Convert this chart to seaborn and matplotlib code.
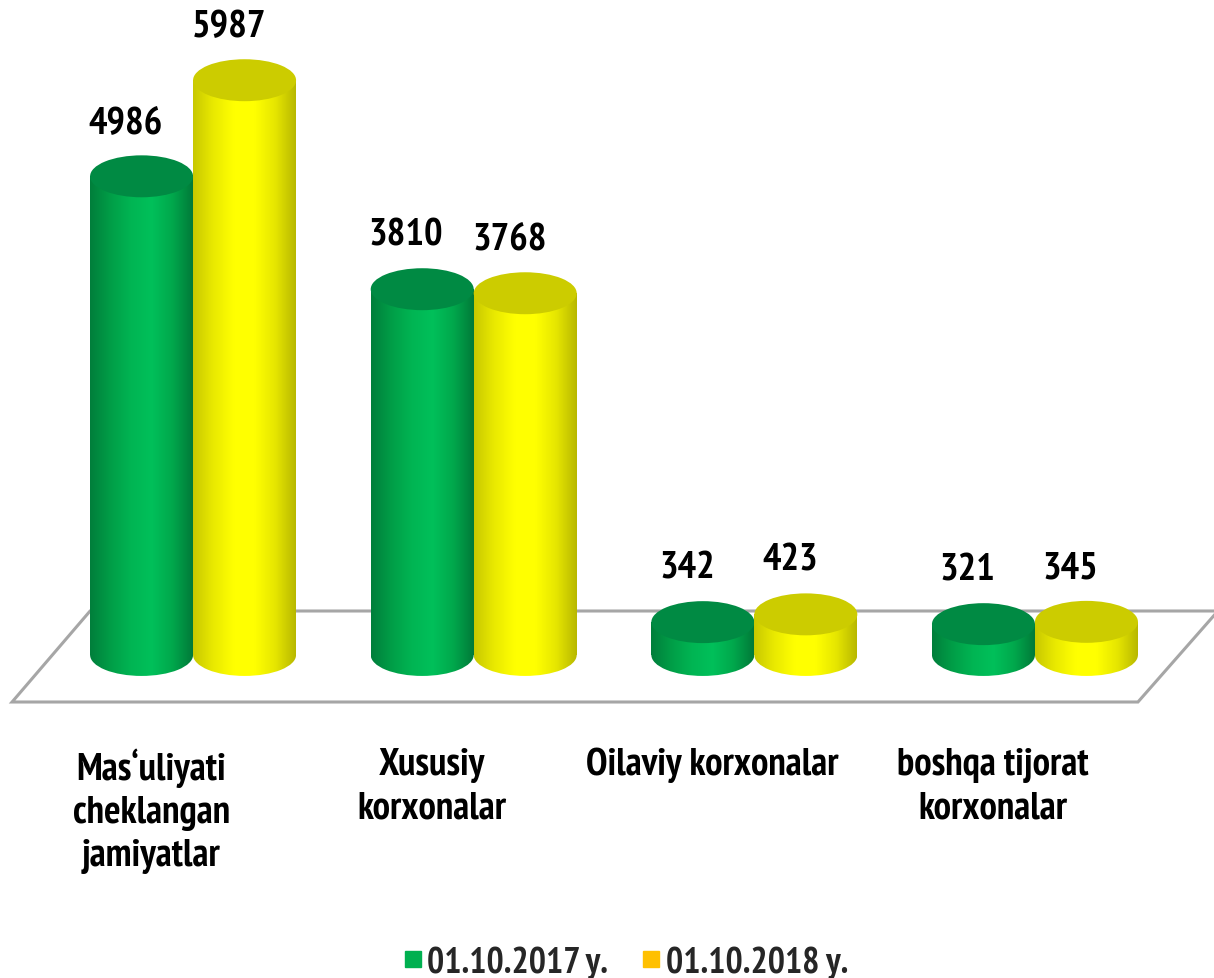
import numpy as np
import pandas as pd
import matplotlib
matplotlib.use("Agg")
import matplotlib.pyplot as plt
import seaborn as sns
from matplotlib.patches import Ellipse, Rectangle, Polygon
from matplotlib.colors import LinearSegmentedColormap
from matplotlib.lines import Line2D
from matplotlib import font_manager

# ---- data ----
categories = ["Mas\u2018uliyati\ncheklangan\njamiyatlar", "Xususiy\nkorxonalar",
              "Oilaviy korxonalar", "boshqa tijorat\nkorxonalar"]
series_names = ["01.10.2017 y.", "01.10.2018 y."]
values_2017 = [4986, 3810, 342, 321]
values_2018 = [5987, 3768, 423, 345]

sns.set_theme(style="white")

# pick a narrow bold face (static bold file preferred)
preferred = ["Liberation Sans Narrow", "PT Sans Narrow", "Roboto Condensed", "Arimo",
             "Pragati Narrow", "Encode Sans Condensed"]
entries = font_manager.fontManager.ttflist
chosen = None
for name in preferred:
    ok = [f for f in entries if f.name == name and f.weight in (700, "bold") and "wght" not in f.fname]
    if ok:
        chosen = name
        break
if chosen is None:
    chosen = "DejaVu Sans"
    plt.rcParams["font.stretch"] = "condensed"
plt.rcParams["font.family"] = [chosen, "DejaVu Sans"]
plt.rcParams["font.weight"] = "bold"

df = pd.DataFrame({
    "cat": categories * 2,
    "period": [series_names[0]] * 4 + [series_names[1]] * 4,
    "value": values_2017 + values_2018,
})

fig = plt.figure(figsize=(12.14, 9.79), dpi=100)
ax = fig.add_axes([0, 0, 1, 1])
sns.barplot(data=df, x="cat", y="value", hue="period", order=categories,
            hue_order=series_names, palette=["#00B050", "#FFFF00"],
            width=0.734, ax=ax, legend=False, errorbar=None)

ax.set_xlim(-0.688, 3.638)
ax.set_ylim(-3365, 6833)
ax.axis("off")

# floor
floor = Polygon([(-0.645, -490), (-0.367, 458), (3.652, 458), (3.367, -490)],
                closed=True, facecolor="white", edgecolor="#A6A6A6", lw=2.2, zorder=0.5)
ax.add_patch(floor)

ell_h = 437
body_cmaps = [
    LinearSegmentedColormap.from_list("g", ["#007E3B", "#009E47", "#00B553", "#00C05A", "#00A84C", "#007A39"]),
    LinearSegmentedColormap.from_list("y", ["#C8C800", "#EAEA00", "#FFFF00", "#FFFF00", "#E6E600", "#B8B800"]),
]
top_colors = ["#008A43", "#CCCC00"]
grad = np.linspace(0, 1, 256).reshape(1, -1)

bars = [p for p in ax.patches if isinstance(p, Rectangle) and p is not floor]
n = len(categories)
for idx, p in enumerate(bars):
    s = idx // n
    x0 = p.get_x(); w = p.get_width(); h = p.get_height()
    xc = x0 + w / 2
    p.set_visible(False)
    z = 3 + s
    be = Ellipse((xc, 0), w, ell_h, facecolor="none", edgecolor="none", zorder=z)
    body = Rectangle((x0, 0), w, h, facecolor="none", edgecolor="none", zorder=z)
    ax.add_patch(be); ax.add_patch(body)
    for clip in (be, body):
        im = ax.imshow(grad, extent=[x0, x0 + w, -ell_h, h], aspect="auto",
                       cmap=body_cmaps[s], zorder=z, interpolation="bilinear")
        im.set_clip_path(clip)
    te = Ellipse((xc, h), w, ell_h, facecolor=top_colors[s], edgecolor="none", zorder=z + 0.1)
    ax.add_patch(te)
    ax.annotate(f"{int(h)}", (xc, h), xytext=(-16, 54), textcoords="offset pixels",
                ha="center", va="center", fontsize=28, fontweight="bold", color="black",
                zorder=10)

ax.set_autoscale_on(False)
ax.set_xlim(-0.688, 3.638)
ax.set_ylim(-3365, 6833)

for i, c in enumerate(categories):
    ax.annotate(c, (i, 0), xytext=(-42, -92), textcoords="offset pixels",
                ha="center", va="top", fontsize=28, fontweight="bold",
                linespacing=1.3, color="black")

handles = [Line2D([], [], marker="s", linestyle="", markersize=11, color="#00B050"),
           Line2D([], [], marker="s", linestyle="", markersize=11, color="#FFC000")]
fig.legend(handles, series_names, loc="center", bbox_to_anchor=(0.514, 0.016),
           ncol=2, frameon=False, handletextpad=0.05, columnspacing=0.85,
           handlelength=0.7, prop={"weight": "bold", "size": 26})

fig.savefig("out.png", dpi=100)
